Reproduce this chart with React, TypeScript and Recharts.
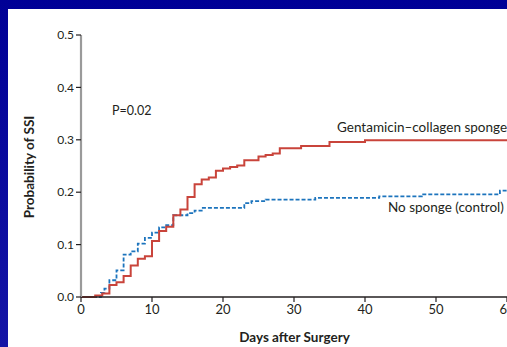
import React from 'react';
import { LineChart, Line, XAxis, YAxis, Customized } from 'recharts';

// Kaplan-Meier style cumulative probability
const gentDays = [0, 2, 3, 4, 5, 6, 7, 8, 9, 10, 11, 12, 13, 14, 15, 16, 17, 18, 19, 20, 21, 22, 23, 25, 26, 27, 28, 31, 35, 40, 60];
const gentProb = [0, 0.003, 0.0065, 0.023, 0.028, 0.04, 0.06, 0.073, 0.078, 0.107, 0.126, 0.134, 0.156, 0.167, 0.191, 0.215, 0.224, 0.228, 0.241, 0.245, 0.248, 0.251, 0.261, 0.268, 0.271, 0.274, 0.284, 0.288, 0.296, 0.299, 0.299];

const ctrlDays = [0, 2.8, 3.3, 4, 5, 6, 7, 8, 9, 10, 11, 12, 13, 15, 16, 17, 23, 24, 26, 33, 42, 48, 59, 60];
const ctrlProb = [0, 0.008, 0.016, 0.032, 0.051, 0.081, 0.087, 0.102, 0.113, 0.123, 0.133, 0.137, 0.156, 0.16, 0.165, 0.17, 0.179, 0.183, 0.186, 0.189, 0.192, 0.196, 0.203, 0.203];

const xTicks = [0, 10, 20, 30, 40, 50, 60];
const yTicks = [0, 0.1, 0.2, 0.3, 0.4, 0.5];

const gentData = gentDays.map((d, i) => ({ day: d, p: gentProb[i] }));
const ctrlData = ctrlDays.map((d, i) => ({ day: d, p: ctrlProb[i] }));

const FONT = 'Lato, "Noto Sans", sans-serif';
const INK = '#231f20';

const Annotations = () => (
  <g fontFamily={FONT} fill={INK}>
    <text x={112} y={115} fontSize={12.5}>P=0.02</text>
    <text x={337} y={132} fontSize={13.5}>Gentamicin–collagen sponge</text>
    <text x={388} y={212} fontSize={13.5}>No sponge (control)</text>
    <text x={294.5} y={342} fontSize={13.5} fontWeight="bold" textAnchor="middle">Days after Surgery</text>
    <text
      x={34}
      y={167}
      fontSize={13.5}
      fontWeight="bold"
      textAnchor="middle"
      transform="rotate(-90 34 167)"
    >
      Probability of SSI
    </text>
  </g>
);

export default function App() {
  return (
    <div
      style={{
        position: 'fixed',
        left: 0,
        top: 0,
        width: 507,
        height: 347,
        overflow: 'hidden',
        background: 'linear-gradient(#000096, #1515a6)',
      }}
    >
      <div
        style={{
          position: 'absolute',
          left: 8,
          top: 9,
          width: 499,
          height: 338,
          overflow: 'hidden',
          background: '#fff',
        }}
      >
        <div style={{ position: 'absolute', left: -8, top: -9 }}>
          <LineChart
            width={600}
            height={347}
            margin={{ top: 35, right: 93, bottom: 20, left: 41 }}
          >
            <XAxis
              type="number"
              dataKey="day"
              domain={[0, 60]}
              ticks={xTicks}
              allowDuplicatedCategory={false}
              height={30}
              tickSize={5}
              axisLine={{ stroke: '#231f20', strokeWidth: 1.5 }}
              tickLine={{ stroke: '#231f20', strokeWidth: 1.2 }}
              tick={{ fill: INK, fontSize: 13, fontFamily: FONT, dy: 1 }}
            />
            <YAxis
              type="number"
              domain={[0, 0.5]}
              ticks={yTicks}
              width={40}
              tickSize={5}
              tickFormatter={(v: number) => v.toFixed(1)}
              axisLine={{ stroke: '#9a9a9a', strokeWidth: 2.2 }}
              tickLine={{ stroke: '#231f20', strokeWidth: 1.2 }}
              tick={{ fill: INK, fontSize: 12, fontFamily: FONT }}
            />
            <Line
              data={ctrlData}
              dataKey="p"
              type="stepAfter"
              stroke="#1c74bd"
              strokeWidth={1.8}
              strokeDasharray="4 2"
              dot={false}
              isAnimationActive={false}
            />
            <Line
              data={gentData}
              dataKey="p"
              type="stepAfter"
              stroke="#c9443b"
              strokeWidth={2}
              dot={false}
              isAnimationActive={false}
            />
            <Customized component={Annotations} />
          </LineChart>
        </div>
      </div>
    </div>
  );
}
